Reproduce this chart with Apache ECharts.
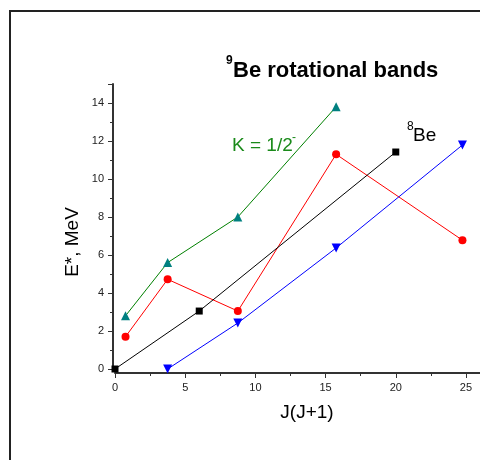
<!DOCTYPE html>
<html>
<head>
<meta charset="utf-8">
<script src="https://cdn.jsdelivr.net/npm/echarts@6/dist/echarts.min.js"></script>
<style>html,body{margin:0;padding:0;background:#fff}#c{width:480px;height:460px}</style>
</head>
<body>
<div id="c"></div>
<script>
// Data
var greenX = [0.75, 3.75, 8.75, 15.75];
var greenY = [2.8, 5.6, 8.0, 13.8];
var redX = [0.75, 3.75, 8.75, 15.75, 24.75];
var redY = [1.7, 4.72, 3.05, 11.3, 6.78];
var blackX = [0, 6, 20];
var blackY = [0, 3.05, 11.42];
var blueX = [3.75, 8.75, 15.75, 24.75];
var blueY = [0, 2.42, 6.37, 11.79];
var xTicks = [0, 5, 10, 15, 20, 25];
var yTicks = [0, 2, 4, 6, 8, 10, 12, 14];

function pairs(xs, ys) { return xs.map(function (x, i) { return [x, ys[i]]; }); }

var FONT = 'Liberation Sans, Arial, sans-serif';
var chart = echarts.init(document.getElementById('c'), null, { renderer: 'canvas' });
var axisCol = '#333';

chart.setOption({
  animation: false,
  backgroundColor: '#fff',
  grid: { left: 115, top: 84, width: 368, height: 285, containLabel: false },
  xAxis: {
    type: 'value', min: 0, max: 26, interval: 5, offset: 4,
    axisLine: { show: true, onZero: false, lineStyle: { color: axisCol, width: 2 } },
    axisTick: { show: true, inside: false, length: 5, lineStyle: { color: axisCol, width: 1 } },
    minorTick: { show: true, splitNumber: 2, length: 3, lineStyle: { color: axisCol, width: 1 } },
    axisLabel: { show: true, showMaxLabel: false, margin: 9, color: '#222', fontSize: 11, fontFamily: FONT,
      formatter: function (v) { return xTicks.indexOf(v) >= 0 ? String(v) : ''; } },
    splitLine: { show: false }
  },
  yAxis: {
    type: 'value', min: 0, max: 15, interval: 2, offset: 2,
    axisLine: { show: true, onZero: false, lineStyle: { color: axisCol, width: 2 } },
    axisTick: { show: true, inside: false, length: 5, lineStyle: { color: axisCol, width: 1 } },
    minorTick: { show: true, splitNumber: 2, length: 3, lineStyle: { color: axisCol, width: 1 } },
    axisLabel: { show: true, showMaxLabel: false, margin: 9, color: '#222', fontSize: 11, fontFamily: FONT,
      formatter: function (v) { return yTicks.indexOf(v) >= 0 ? String(v) : ''; } },
    splitLine: { show: false }
  },
  series: [
    { name: 'green', type: 'line', data: pairs(greenX, greenY), symbol: 'triangle', symbolSize: 9,
      lineStyle: { color: '#008000', width: 1 }, itemStyle: { color: '#008080' } },
    { name: 'red', type: 'line', data: pairs(redX, redY), symbol: 'circle', symbolSize: 8,
      lineStyle: { color: '#ff0000', width: 1 }, itemStyle: { color: '#ff0000' } },
    { name: 'black', type: 'line', data: pairs(blackX, blackY), symbol: 'rect', symbolSize: 7,
      lineStyle: { color: '#000', width: 1 }, itemStyle: { color: '#000' } },
    { name: 'blue', type: 'line', data: pairs(blueX, blueY), symbol: 'triangle', symbolSize: 9, symbolRotate: 180,
      lineStyle: { color: '#0000ff', width: 1 }, itemStyle: { color: '#0000ff' } }
  ],
  graphic: [
    { type: 'rect', shape: { x: 10, y: 11, width: 490, height: 470 }, style: { fill: 'none', stroke: '#222', lineWidth: 2 }, silent: true },
    { type: 'text', x: 226, y: 61, style: { text: '9', font: 'bold 12px ' + FONT, fill: '#000', verticalAlign: 'middle', align: 'left' } },
    { type: 'text', x: 233, y: 71, style: { text: 'Be rotational bands', font: 'bold 22px ' + FONT, fill: '#000', verticalAlign: 'middle', align: 'left' } },
    { type: 'text', x: 232, y: 146, style: { text: 'K = 1/2', font: '19px ' + FONT, fill: '#1a8a1a', verticalAlign: 'middle', align: 'left' } },
    { type: 'text', x: 292, y: 138, style: { text: '-', font: '12px ' + FONT, fill: '#1a8a1a', verticalAlign: 'middle', align: 'left' } },
    { type: 'text', x: 407, y: 127, style: { text: '8', font: '12px ' + FONT, fill: '#000', verticalAlign: 'middle', align: 'left' } },
    { type: 'text', x: 413, y: 136, style: { text: 'Be', font: '19px ' + FONT, fill: '#000', verticalAlign: 'middle', align: 'left' } },
    { type: 'text', x: 73, y: 242, rotation: Math.PI / 2, style: { text: 'E*, MeV', font: '19px ' + FONT, fill: '#000', verticalAlign: 'middle', align: 'center' } },
    { type: 'text', x: 307, y: 413, style: { text: 'J(J+1)', font: '19px ' + FONT, fill: '#000', verticalAlign: 'middle', align: 'center' } }
  ]
});
</script>
</body>
</html>
